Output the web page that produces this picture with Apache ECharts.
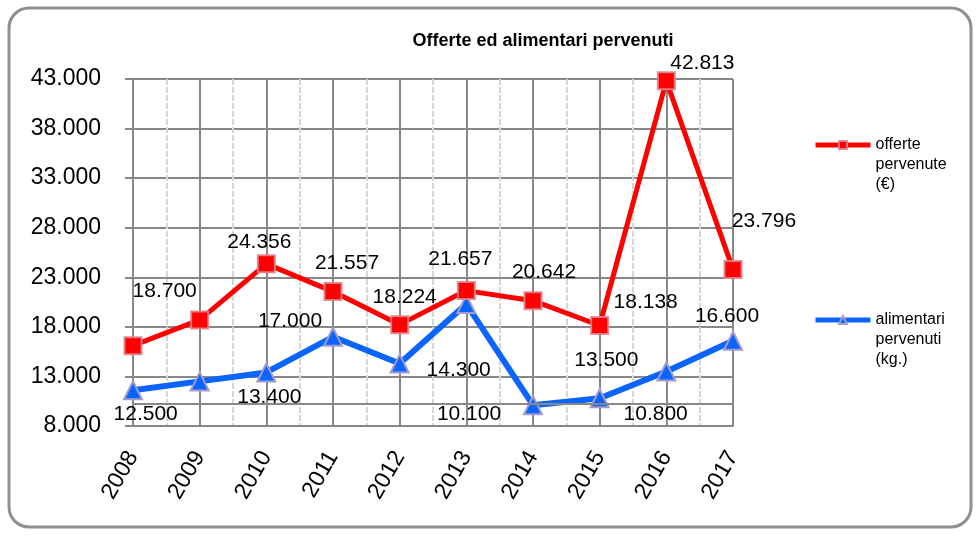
<!DOCTYPE html>
<html>
<head>
<meta charset="utf-8">
<script src="https://cdn.jsdelivr.net/npm/echarts@6/dist/echarts.min.js"></script>
<style>
  html, body { margin: 0; padding: 0; background: #fff; }
  #chart { width: 976px; height: 537px; }
</style>
</head>
<body>
<div id="chart"></div>
<script>
// dati
const anni = ['2008', '2009', '2010', '2011', '2012', '2013', '2014', '2015', '2016', '2017']
const offerte = [16100, 18700, 24356, 21557, 18224, 21657, 20642, 18138, 42813, 23796]
const alimentari = [11600, 12500, 13400, 17000, 14300, 20300, 10100, 10800, 13500, 16600]
const yTicks = [8000, 43000, 5000] // min, max, passo
const extraGridValue = 10200

// spostamento delle etichette rispetto al punto (null = etichetta nascosta)
const offerteLabelShift = [null, [-35, -29], [-7, -22], [14, -28], [5, -27], [-6, -31], [11, -28], [46, -23], [36, -18], [31, -48]]
const alimentariLabelShift = [null, [-54, 33], [3, 25], [-43, -16], [59, 7], null, [-64, 9], [56, 16], [-60, -11], [-6, -25]]

const FONT = "'Liberation Sans', Arial, sans-serif"

const fmt = v => String(Math.round(v)).replace(/\B(?=(\d{3})+(?!\d))/g, '.')

const buildData = (values, shifts) => values.map((v, i) => ({
  value: v,
  label: shifts[i] ? { show: true, position: 'inside', offset: shifts[i] } : { show: false }
}))

const chart = echarts.init(document.getElementById('chart'))

const option = {
  backgroundColor: '#fff',
  animation: false,
  title: {
    text: 'Offerte ed alimentari pervenuti',
    left: 538,
    textAlign: 'center',
    top: 27,
    textStyle: { fontFamily: FONT, fontSize: 18, fontWeight: 'bold', color: '#000' }
  },
  graphic: [{
    type: 'rect',
    shape: { x: 9, y: 8, width: 962, height: 519, r: 20 },
    style: { fill: 'none', stroke: '#8f8f8f', lineWidth: 3 },
    silent: true,
    z: -1
  }],
  legend: {
    orient: 'vertical',
    left: 808,
    top: 90,
    padding: 5,
    itemWidth: 55,
    itemHeight: 10,
    itemGap: 75,
    lineStyle: { width: 5 },
    textStyle: { fontFamily: FONT, fontSize: 16, color: '#000', lineHeight: 20 },
    formatter: name => '\n\n' + name.split(' ').join('\n'),
    data: ['offerte pervenute (€)', 'alimentari pervenuti (kg.)']
  },
  grid: { left: 133, right: 243, top: 79, bottom: 111 },
  xAxis: [{
    type: 'category',
    data: anni,
    boundaryGap: false,
    axisLine: { show: true, lineStyle: { color: '#888', width: 2 } },
    axisTick: { show: false },
    splitLine: { show: true, lineStyle: { color: '#888', width: 2 } },
    axisLabel: { rotate: 60, margin: 27, fontFamily: FONT, fontSize: 23, color: '#000' },
    z: 3
  }, {
    type: 'value',
    min: 0,
    max: anni.length - 1,
    interval: 1,
    axisLine: { show: false },
    axisTick: { show: false },
    axisLabel: { show: false },
    splitLine: { show: false },
    minorTick: { show: false, splitNumber: 2 },
    minorSplitLine: { show: true, lineStyle: { color: '#d6d6d6', width: 2, type: [6, 2] } }
  }],
  yAxis: {
    type: 'value',
    min: yTicks[0],
    max: yTicks[1],
    interval: yTicks[2],
    axisLine: { show: true, lineStyle: { color: '#888', width: 2 } },
    axisTick: { show: true, length: 8, lineStyle: { color: '#888', width: 2 } },
    splitLine: { show: true, lineStyle: { color: '#888', width: 2 } },
    axisLabel: { margin: 32, fontFamily: FONT, fontSize: 23, color: '#000', formatter: fmt }
  },
  series: [{
    name: 'offerte pervenute (€)',
    type: 'line',
    z: 4,
    data: buildData(offerte, offerteLabelShift),
    symbol: 'rect',
    symbolSize: 17,
    lineStyle: { color: '#ff0000', width: 5 },
    itemStyle: { color: '#ff0000', borderColor: 'rgba(225,130,140,0.9)', borderWidth: 2 },
    label: { fontFamily: FONT, fontSize: 21, color: '#000', formatter: p => fmt(p.value) }
  }, {
    name: 'alimentari pervenuti (kg.)',
    type: 'line',
    z: 3,
    data: buildData(alimentari, alimentariLabelShift),
    symbol: 'triangle',
    symbolSize: 18,
    lineStyle: { color: '#0a64ff', width: 6 },
    itemStyle: { color: '#0a64ff', borderColor: '#a39ccb', borderWidth: 2 },
    label: { fontFamily: FONT, fontSize: 21, color: '#000', formatter: p => fmt(p.value) },
    markLine: {
      silent: true,
      symbol: 'none',
      label: { show: false },
      lineStyle: { color: '#888', width: 2, type: 'solid' },
      data: [{ yAxis: extraGridValue }]
    }
  }]
}

chart.setOption(option)
</script>
</body>
</html>
